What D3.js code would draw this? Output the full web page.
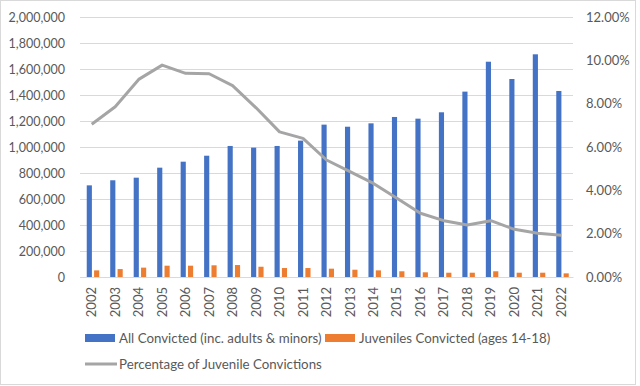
<!DOCTYPE html>
<html>
<head>
<meta charset="utf-8">
<script src="https://cdn.jsdelivr.net/npm/d3@7"></script>
<style>
  body { margin: 0; background: #fff; }
  svg { display: block; font-family: Lato, "Noto Sans", sans-serif; }
</style>
</head>
<body>
<svg width="640" height="386"></svg>
<script>
const YEARS = ["2002","2003","2004","2005","2006","2007","2008","2009","2010","2011","2012",
  "2013","2014","2015","2016","2017","2018","2019","2020","2021","2022"];
const ALL_CONVICTED = [705000, 744000, 764000, 841000, 887000, 933000, 1008000, 995000, 1008000, 1049000,
  1172000, 1156000, 1182000, 1231000, 1218000, 1267000, 1426000, 1656000, 1523000, 1713000, 1431000];
const JUVENILES = [51000, 61000, 72000, 87000, 87000, 90000, 92000, 79000, 69000, 69000,
  64000, 56000, 51000, 44000, 36000, 33000, 33000, 44000, 33000, 33000, 28000];
const PCT_JUVENILE = [0.0705, 0.0786, 0.0912, 0.0978, 0.094, 0.0938, 0.0883, 0.0781, 0.067, 0.064,
  0.054, 0.0486, 0.0432, 0.0363, 0.0294, 0.026, 0.024, 0.026, 0.022, 0.0202, 0.0193];
const LEFT_TICKS = [0, 200000, 400000, 600000, 800000, 1000000, 1200000, 1400000, 1600000, 1800000, 2000000];
const RIGHT_TICKS = [0, 0.02, 0.04, 0.06, 0.08, 0.10, 0.12];
const LEGEND = ["All Convicted (inc. adults & minors)", "Juveniles Convicted (ages 14-18)", "Percentage of Juvenile Convictions"];

const plot = {left: 80, right: 573, top: 17, bottom: 277};
const BLUE = "#4472c4", ORANGE = "#ed7d31", GREY = "#a5a5a5", TEXT = "#595959";

const svg = d3.select("svg");

svg.append("rect")
  .attr("x", 0.5).attr("y", 0.5).attr("width", 635).attr("height", 384)
  .attr("fill", "#fff").attr("stroke", "#d9d9d9");

const x = d3.scaleBand().domain(YEARS).range([plot.left, plot.right]);
const inner = d3.scaleBand().domain(["all", "juv"]).range([-5, 7.5]).paddingInner(0.3);
const y = d3.scaleLinear().domain([0, 2000000]).range([plot.bottom, plot.top]);
const y2 = d3.scaleLinear().domain([0, 0.12]).range([plot.bottom, plot.top]);

// gridlines
svg.append("g")
  .attr("transform", `translate(${plot.left},0)`)
  .call(d3.axisLeft(y).tickValues(LEFT_TICKS).tickSize(-(plot.right - plot.left)).tickFormat(""))
  .call(g => g.select(".domain").remove())
  .call(g => g.selectAll("line").attr("stroke", "#d9d9d9"));

// left axis labels
svg.append("g")
  .attr("transform", `translate(${plot.left - 12},0)`)
  .call(d3.axisLeft(y).tickValues(LEFT_TICKS).tickSize(0).tickFormat(d3.format(",")))
  .call(g => g.select(".domain").remove())
  .call(g => g.selectAll("text").attr("fill", TEXT).style("font-size", "12.5px").style("font-family", "Lato"));

// right axis labels
svg.append("g")
  .attr("transform", `translate(${plot.right + 10},0)`)
  .call(d3.axisRight(y2).tickValues(RIGHT_TICKS).tickSize(0).tickFormat(d3.format(".2%")))
  .call(g => g.select(".domain").remove())
  .call(g => g.selectAll("text").attr("fill", TEXT).style("font-size", "13px").style("font-family", "Lato"));

// bottom axis (rotated years)
svg.append("g")
  .attr("transform", `translate(0,${plot.bottom})`)
  .call(d3.axisBottom(x).tickSize(0).tickSizeOuter(0))
  .call(g => g.select(".domain").attr("stroke", "#d9d9d9"))
  .call(g => g.selectAll("text")
    .attr("fill", TEXT)
    .style("font-size", "13px").style("font-family", "Lato")
    .attr("transform", "rotate(-90)")
    .attr("text-anchor", "end")
    .attr("x", -10).attr("y", 0).attr("dy", "0.35em"));

// bars
svg.append("g").selectAll("rect")
  .data(YEARS)
  .join("rect")
  .attr("x", (d) => x(d) + x.bandwidth() / 2 + inner("all"))
  .attr("width", inner.bandwidth())
  .attr("y", (d, i) => y(ALL_CONVICTED[i]))
  .attr("height", (d, i) => y(0) - y(ALL_CONVICTED[i]))
  .attr("fill", BLUE);

svg.append("g").selectAll("rect")
  .data(YEARS)
  .join("rect")
  .attr("x", (d) => x(d) + x.bandwidth() / 2 + inner("juv"))
  .attr("width", inner.bandwidth())
  .attr("y", (d, i) => y(JUVENILES[i]))
  .attr("height", (d, i) => y(0) - y(JUVENILES[i]))
  .attr("fill", ORANGE);

// percentage line
const line = d3.line()
  .x((d, i) => x(YEARS[i]) + x.bandwidth() / 2)
  .y((d) => y2(d));

svg.append("path")
  .datum(PCT_JUVENILE)
  .attr("d", line)
  .attr("fill", "none")
  .attr("stroke", GREY)
  .attr("stroke-width", 3)
  .attr("stroke-linejoin", "round");

// legend
const legend = svg.append("g").style("font-family", "Lato").style("font-size", "13.3px").attr("fill", TEXT);
const items = [
  {label: LEGEND[0], color: BLUE, kind: "bar", x: 85, y: 338},
  {label: LEGEND[1], color: ORANGE, kind: "bar", x: 325, y: 338},
  {label: LEGEND[2], color: GREY, kind: "line", x: 85, y: 364}
];
items.forEach((it) => {
  if (it.kind === "bar") {
    legend.append("rect").attr("x", it.x).attr("y", it.y - 4).attr("width", 30).attr("height", 8).attr("fill", it.color);
  } else {
    legend.append("line").attr("x1", it.x).attr("x2", it.x + 32).attr("y1", it.y).attr("y2", it.y)
      .attr("stroke", it.color).attr("stroke-width", 3);
  }
  legend.append("text").attr("x", it.x + 34).attr("y", it.y).attr("dy", "0.35em").text(it.label);
});
</script>
</body>
</html>
